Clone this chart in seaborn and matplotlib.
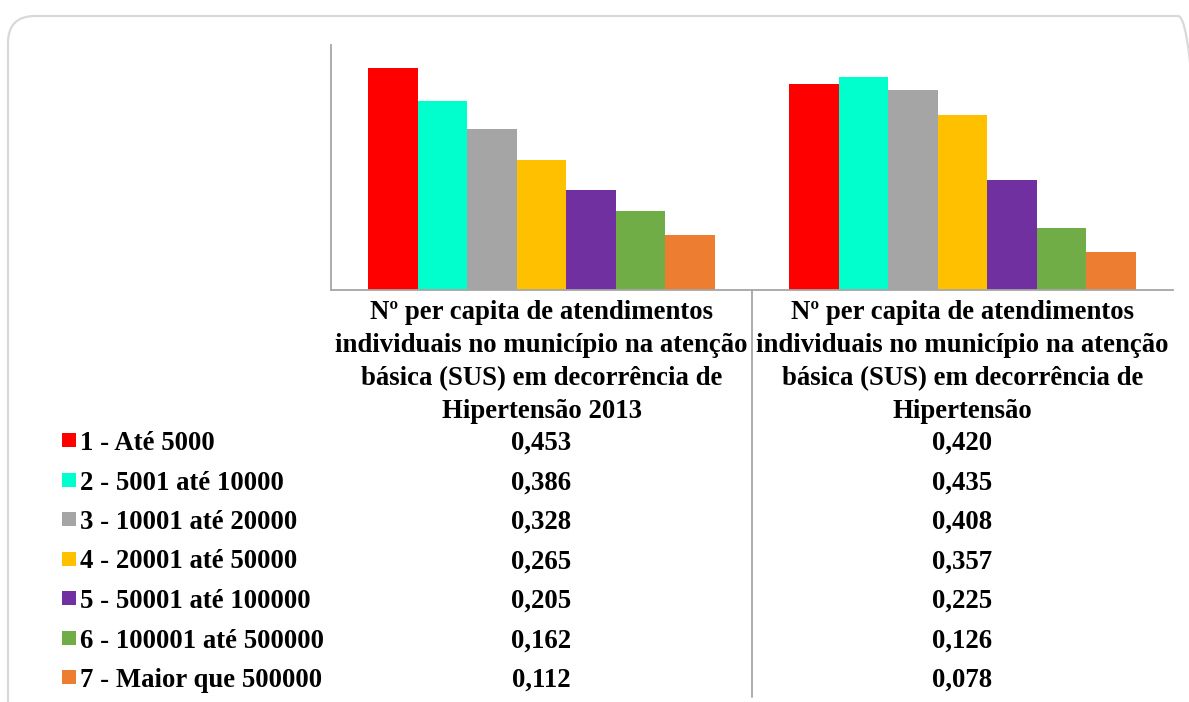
import matplotlib
matplotlib.use("Agg")
import matplotlib.pyplot as plt
import matplotlib.transforms as mtransforms
from matplotlib.patches import FancyBboxPatch, Rectangle
import pandas as pd
import seaborn as sns

# Indicators (column headers of the data table / x categories)
indicadores = [
    "Nº per capita de atendimentos\nindividuais no município na atenção\n"
    "básica (SUS) em decorrência de\nHipertensão 2013",
    "Nº per capita de atendimentos\nindividuais no município na atenção\n"
    "básica (SUS) em decorrência de\nHipertensão",
]

# Municipality size bands
faixas = [
    "1 - Até 5000",
    "2 - 5001 até 10000",
    "3 - 10001 até 20000",
    "4 - 20001 até 50000",
    "5 - 50001 até 100000",
    "6 - 100001 até 500000",
    "7 - Maior que 500000",
]

valores_2013 = [0.453, 0.386, 0.328, 0.265, 0.205, 0.162, 0.112]
valores_atual = [0.420, 0.435, 0.408, 0.357, 0.225, 0.126, 0.078]

cores = ["#FF0000", "#00FFCC", "#A5A5A5", "#FFC000", "#7030A0", "#70AD47", "#ED7D31"]

sns.set_theme(style="white")
plt.rcParams["font.family"] = ["Liberation Serif", "DejaVu Serif"]
plt.rcParams["font.weight"] = "bold"

df = pd.DataFrame({
    "indicador": [indicadores[0]] * len(faixas) + [indicadores[1]] * len(faixas),
    "faixa": faixas * 2,
    "valor": valores_2013 + valores_atual,
})

W, H = 1189, 702
FS = 19.3
fig = plt.figure(figsize=(W / 100, H / 100), dpi=100)
fig.patch.set_facecolor("white")

# Rounded outer frame (pixel coordinates)
frame = FancyBboxPatch((8, -40), 1197, 686 + 40,
                       boxstyle="round,pad=0,rounding_size=27",
                       transform=mtransforms.IdentityTransform(),
                       facecolor="none", edgecolor="#D9D9D9", linewidth=1.6)
fig.add_artist(frame)

ax = fig.add_axes([331 / W, 1 - 290 / H, (1173 - 331) / W, (290 - 45) / H])
sns.barplot(data=df, x="indicador", y="valor", hue="faixa",
            order=indicadores, hue_order=faixas, palette=cores,
            saturation=1, width=0.824, linewidth=0, legend=False, ax=ax)
ax.set_ylim(0, 0.5)
ax.set_xlim(-0.5, 1.5)
ax.set_xlabel("")
ax.set_ylabel("")
ax.set_yticks([])
for side in ("top", "right"):
    ax.spines[side].set_visible(False)
for side in ("left", "bottom"):
    ax.spines[side].set_color("#A6A6A6")
    ax.spines[side].set_linewidth(1.3)

ax.tick_params(axis="x", length=0, pad=7, labelsize=FS)
for lab in ax.get_xticklabels():
    lab.set_fontweight("bold")
    lab.set_linespacing(1.43)
    lab.set_color("black")

# Vertical divider between the two columns, running down through the table
trans_x = mtransforms.blended_transform_factory(ax.transData, fig.transFigure)
ax.plot([0.5, 0.5], [1 - 290 / H, 1 - 697 / H], transform=trans_x,
        color="#A6A6A6", linewidth=1.3, clip_on=False)

# Data table with legend keys
base0, step = 450, 39.5
for i, faixa in enumerate(faixas):
    yb = base0 + i * step
    fig.add_artist(Rectangle((62, H - yb + 3), 14, 14,
                             transform=mtransforms.IdentityTransform(),
                             facecolor=cores[i], edgecolor="none"))
    fig.text(80 / W, 1 - yb / H, faixa, fontsize=FS, fontweight="bold",
             va="baseline", ha="left", color="black")
    for j, serie in enumerate((valores_2013, valores_atual)):
        ax.text(j, 1 - yb / H, f"{serie[i]:.3f}".replace(".", ","),
                transform=trans_x, fontsize=FS, fontweight="bold",
                ha="center", va="baseline", color="black", clip_on=False)

fig.savefig("out.png", dpi=100)
